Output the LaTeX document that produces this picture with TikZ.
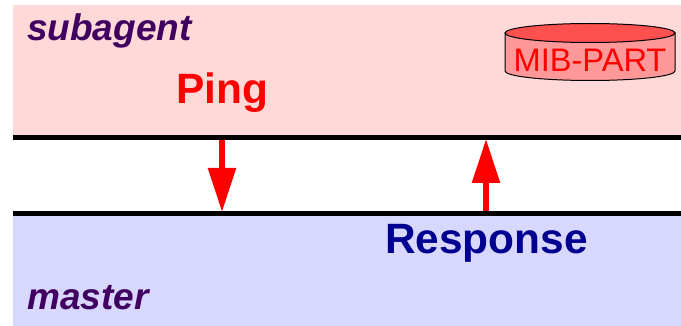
\documentclass[tikz,border=0pt]{standalone}
\usepackage{fontspec}
\setmainfont{Liberation Sans}
\usepackage{xcolor}
\usetikzlibrary{positioning, arrows.meta}
\definecolor{bandpink}{HTML}{FFD8D8}
\definecolor{bandblue}{HTML}{D8D8FF}
\definecolor{labelpurple}{HTML}{400060}
\definecolor{msgblue}{HTML}{000090}
\definecolor{diskside}{HTML}{FF9898}
\definecolor{disktop}{HTML}{FF5050}

\begin{document}
\begin{tikzpicture}[
    x=1pt, y=-1pt,
    band/.style={rectangle, draw=none, inner sep=0pt, minimum width=668pt, anchor=north west},
    agent/.style={font=\fontsize{37}{37}\selectfont\bfseries\itshape, text=labelpurple, inner sep=0pt},
    msg/.style={font=\fontsize{42.4}{42.4}\selectfont\bfseries, inner sep=0pt},
    rail/.style={line width=5pt, black},
    arrow/.style={-{Triangle[length=44pt, width=27pt]}, line width=6pt, red}
    ]
\useasboundingbox (0,0) rectangle (681,326);
\node[band, fill=bandpink, minimum height=132pt] (S) at (13,5) {};
\node[band, fill=bandblue, minimum height=113pt] (M) at (13,213) {};

% the two rails
\coordinate (R1) at (13,137.5);
\coordinate (R2) at (681,137.5);
\coordinate (R3) at (13,213.5);
\coordinate (R4) at (681,213.5);
\draw[rail] (R1) -- (R2);
\draw[rail] (R3) -- (R4);

% disk
\draw[line width=1pt, fill=diskside] (505,33) -- (505,71) arc[start angle=180, end angle=0, x radius=85, y radius=9.5] -- (675,33) -- cycle;
\draw[line width=1pt, fill=disktop] (590,33) ellipse[x radius=85, y radius=9.5];
\node[inner sep=0pt, text=red, font=\fontsize{32.6}{32.6}\selectfont] (D) at (590,60) {MIB-PART};

\node[agent, anchor=base west] (A) at (27,41) {subagent};
\node[agent, anchor=base west] (B) at (27,309) {master};
\node[msg, text=red, anchor=base west] (P) at (176,103.5) {Ping};
\node[msg, text=msgblue, anchor=base west] (Q) at (385,254) {Response};

\coordinate (P1) at (222,140);
\coordinate (P2) at (222,212);
\coordinate (Q1) at (486,211);
\coordinate (Q2) at (486,139);
\draw[arrow] (P1) -- (P2);
\draw[arrow] (Q1) -- (Q2);
\end{tikzpicture}
\end{document}
